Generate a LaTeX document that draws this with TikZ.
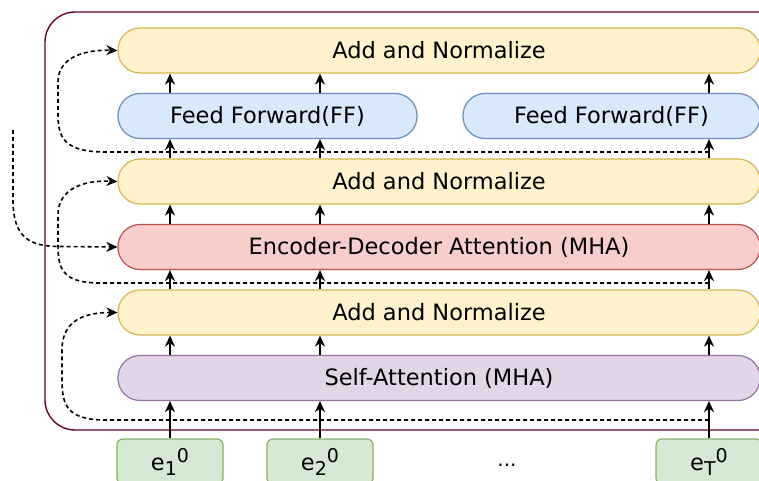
\documentclass[tikz,border=0pt]{standalone}
\usepackage{fontspec}
\setmainfont{DejaVu Sans}
\usepackage{tikz}
\usetikzlibrary{positioning,arrows.meta}
\definecolor{anfill}{HTML}{FFF2CC}
\definecolor{anline}{HTML}{D6B656}
\definecolor{fffill}{HTML}{DAE8FC}
\definecolor{ffline}{HTML}{6C8EBF}
\definecolor{edfill}{HTML}{F8CECC}
\definecolor{edline}{HTML}{B85450}
\definecolor{safill}{HTML}{E1D5E7}
\definecolor{saline}{HTML}{9673A6}
\definecolor{emfill}{HTML}{D5E8D4}
\definecolor{emline}{HTML}{82B366}
\definecolor{boxline}{HTML}{660033}
\newcommand{\emb}[2]{e\raisebox{-5pt}{\fontsize{19}{19}\selectfont #1}\raisebox{8pt}{\fontsize{19}{19}\selectfont #2}}

\begin{document}
\begin{tikzpicture}[x=1pt, y=-1pt, node distance=19.3pt,
    font=\fontsize{22.5}{26}\selectfont,
    block/.style={draw, rounded corners=22pt, minimum height=45pt, inner sep=0pt, line width=1.2pt},
    wide/.style={block, minimum width=642pt},
    an/.style={wide, fill=anfill, draw=anline},
    ff/.style={block, fill=fffill, draw=ffline},
    emb/.style={draw=emline, fill=emfill, rounded corners=6pt, minimum width=106pt, minimum height=45pt, line width=1.2pt},
    arr/.style={-{Stealth[length=11pt,width=10pt,inset=3.5pt]}, line width=1.6pt},
    res/.style={arr, dash pattern=on 4pt off 3pt}]
    \useasboundingbox (0,0) rectangle (759,481);
    \clip (0,0) rectangle (759,481);

    % decoder block
    \draw[boxline, line width=1.4pt, rounded corners=30pt] (45,12) rectangle (790,430);

    \node[wide, fill=safill, draw=saline] (SA) at (439,378) {Self-Attention (MHA)};
    \node[an] (AN3) [above=of SA] {Add and Normalize};
    \node[wide, fill=edfill, draw=edline] (ED) [above=of AN3] {Encoder-Decoder Attention (MHA)};
    \node[an] (AN2) [above=of ED] {Add and Normalize};
    \node[ff, minimum width=299pt] (FF1) [above right=19.3pt and 0pt of AN2.north west] {Feed Forward(FF)};
    \node[ff, minimum width=297pt] (FF2) [above left=19.3pt and 0pt of AN2.north east] {Feed Forward(FF)};
    \node[an] (AN1) [above right=19.3pt and 0pt of FF1.north west] {Add and Normalize};

    % inputs
    \node[emb] (E1) at (170,461.5) {\emb{1}{0}};
    \node[emb] (E2) at (320,461.5) {\emb{2}{0}};
    \node[emb] (ET) at (709,461.5) {\emb{T}{0}};
    \node[font=\fontsize{20}{24}\selectfont] (dots) at (507,465) {...};

    \coordinate (c1) at (170,0);
    \coordinate (c2) at (320,0);
    \coordinate (c3) at (709,0);

    \path[arr] (E1.north) edge (SA.south -| c1)
               (E2.north) edge (SA.south -| c2)
               (ET.north) edge (SA.south -| c3)
               (SA.north -| c1) edge (AN3.south -| c1)
               (SA.north -| c2) edge (AN3.south -| c2)
               (SA.north -| c3) edge (AN3.south -| c3)
               (AN3.north -| c1) edge (ED.south -| c1)
               (AN3.north -| c2) edge (ED.south -| c2)
               (AN3.north -| c3) edge (ED.south -| c3)
               (ED.north -| c1) edge (AN2.south -| c1)
               (ED.north -| c2) edge (AN2.south -| c2)
               (ED.north -| c3) edge (AN2.south -| c3)
               (AN2.north -| c1) edge (FF1.south -| c1)
               (AN2.north -| c2) edge (FF1.south -| c2)
               (AN2.north -| c3) edge (FF2.south -| c3)
               (FF1.north -| c1) edge (AN1.south -| c1)
               (FF1.north -| c2) edge (AN1.south -| c2)
               (FF2.north -| c3) edge (AN1.south -| c3);

    % residual connections
    \coordinate (r1) at (709,420);
    \coordinate (r2) at (709,283);
    \coordinate (r3) at (709,152);
    \coordinate (enc) at (13,130);
    \draw[res] (r1) -- (105,420) .. controls (62,420) and (62,400) .. (62,375) -- (62,350) .. controls (62,320) and (85,312.5) .. (AN3.west);
    \draw[res] (r2) -- (100,283) .. controls (58,283) and (58,265) .. (58,240) -- (58,215) .. controls (58,188) and (85,180) .. (AN2.west);
    \draw[res] (enc) -- (13,200) .. controls (13,238) and (30,246.5) .. (60,246.5) -- (ED.west);
    \draw[res] (r3) -- (105,152) .. controls (58,152) and (58,132) .. (58,110) -- (58,82) .. controls (58,57) and (85,49.5) .. (AN1.west);
\end{tikzpicture}
\end{document}
